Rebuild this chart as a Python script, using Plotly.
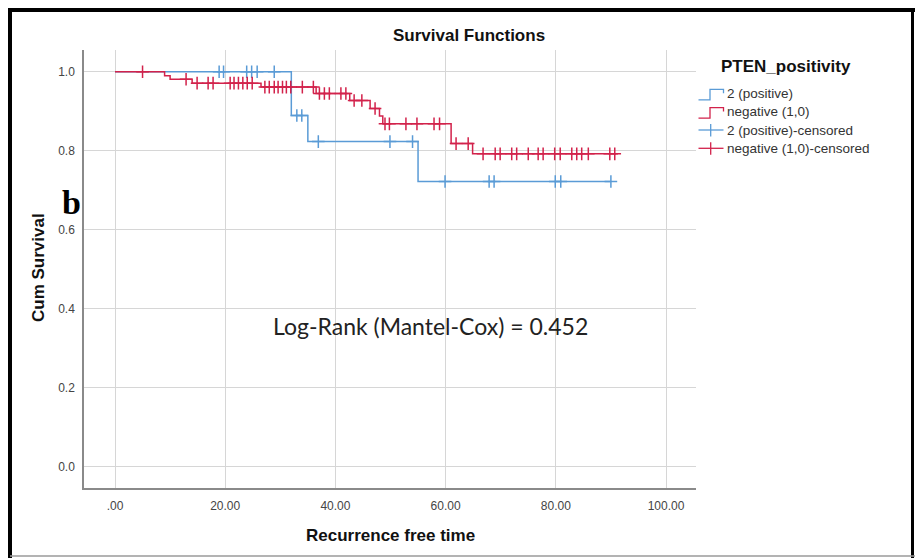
import numpy as np
import plotly.graph_objects as go

# ---------------- data ----------------
x_tick_vals = [0, 20, 40, 60, 80, 100]
x_tick_text = [".00", "20.00", "40.00", "60.00", "80.00", "100.00"]
y_tick_vals = [0.0, 0.2, 0.4, 0.6, 0.8, 1.0]
y_tick_text = ["0.0", "0.2", "0.4", "0.6", "0.8", "1.0"]

pos_event_times = [32.0, 35.0, 55.0]
pos_event_surv = [0.889, 0.823, 0.722]
pos_end_time = 90.0
pos_cens_times = [18.9, 19.7, 23.9, 24.8, 25.8, 28.9, 33.0, 33.9, 36.9,
                  49.9, 54.0, 59.9, 67.9, 68.8, 79.9, 80.9, 90.0]

neg_event_times = [9.0, 10.0, 14.0, 26.5, 36.5, 42.6, 46.3, 48.0, 48.6, 61.0, 64.9]
neg_event_surv = [0.990, 0.981, 0.971, 0.961, 0.945, 0.927, 0.907, 0.888, 0.868, 0.818, 0.792]
neg_end_time = 91.3
neg_cens_times = [5.0, 12.9, 14.9, 16.9, 17.8, 20.9, 21.6, 22.4, 23.2, 24.0, 24.9,
                  27.2, 28.0, 28.9, 29.6, 30.4, 31.1, 31.9, 34.0, 36.0, 37.1, 38.0,
                  38.9, 41.0, 41.9, 43.4, 44.8, 47.2, 49.0, 49.8, 52.8, 54.8, 57.9,
                  58.9, 61.9, 64.1, 66.8, 69.0, 69.9, 72.0, 72.9, 75.0, 76.8, 77.7,
                  79.8, 80.8, 82.9, 83.8, 84.7, 85.9, 89.8, 90.7]

series_names = ["2 (positive)", "negative (1,0)",
                "2 (positive)-censored", "negative (1,0)-censored"]
legend_title = "PTEN_positivity"
chart_title = "Survival Functions"
x_title = "Recurrence free time"
y_title = "Cum Survival"
logrank_text = "Log-Rank (Mantel-Cox) = 0.452"
panel_letter = "b"

BLUE = "#5a9bd6"
RED = "#d2224b"

# ---------------- helpers ----------------
W, H = 915, 558
L, R, T, B = 84, 219, 50, 70
PW, PH = W - L - R, H - T - B


def px(xp):
    return (xp - L) / PW


def py(yp):
    return (H - B - yp) / PH


def step_curve(times, surv, end):
    xs = [0.0] + list(times) + [end]
    ys = [1.0] + list(surv) + [surv[-1]]
    return xs, ys


def surv_at(times, surv, t):
    t_arr = np.asarray(times)
    s_arr = np.asarray([1.0] + list(surv))
    idx = np.searchsorted(t_arr, np.asarray(t), side="right")
    return s_arr[idx]


fig = go.Figure()

pxs, pys = step_curve(pos_event_times, pos_event_surv, pos_end_time)
nxs, nys = step_curve(neg_event_times, neg_event_surv, neg_end_time)

fig.add_trace(go.Scatter(x=pxs, y=pys, mode="lines", line=dict(color=BLUE, width=1.5, shape="hv"),
                         name=series_names[0], showlegend=False, hoverinfo="skip"))
fig.add_trace(go.Scatter(x=pos_cens_times, y=surv_at(pos_event_times, pos_event_surv, pos_cens_times),
                         mode="markers", name=series_names[2], showlegend=False,
                         marker=dict(symbol="cross-thin", size=9, line=dict(color=BLUE, width=1.5))))
fig.add_trace(go.Scatter(x=nxs, y=nys, mode="lines", line=dict(color=RED, width=1.5, shape="hv"),
                         name=series_names[1], showlegend=False, hoverinfo="skip"))
fig.add_trace(go.Scatter(x=neg_cens_times, y=surv_at(neg_event_times, neg_event_surv, neg_cens_times),
                         mode="markers", name=series_names[3], showlegend=False,
                         marker=dict(symbol="cross-thin", size=9, line=dict(color=RED, width=1.5))))

shapes = []
annotations = []

# legend (manual, mimicking SPSS icons)
leg_y = [93.3, 111.6, 130.0, 148.3]
leg_col = [BLUE, RED, BLUE, RED]
for i in range(4):
    yc = leg_y[i]
    c = leg_col[i]
    if i < 2:
        path = (f"M {px(698.5)} {py(yc + 6.5)} L {px(710)} {py(yc + 6.5)} "
                f"L {px(710)} {py(yc - 4)} L {px(723.5)} {py(yc - 4)} L {px(723.5)} {py(yc)}")
        shapes.append(dict(type="path", xref="paper", yref="paper", path=path,
                           line=dict(color=c, width=1.3)))
    else:
        shapes.append(dict(type="line", xref="paper", yref="paper", x0=px(698.5), x1=px(723.5),
                           y0=py(yc), y1=py(yc), line=dict(color=c, width=1.3)))
        shapes.append(dict(type="line", xref="paper", yref="paper", x0=px(710.7), x1=px(710.7),
                           y0=py(yc - 6), y1=py(yc + 6.5), line=dict(color=c, width=1.3)))
    annotations.append(dict(text=series_names[i], xref="paper", yref="paper", x=px(724.5), y=py(yc),
                            xanchor="left", yanchor="middle", showarrow=False,
                            font=dict(family="Liberation Sans", size=13.5, color="#333333")))

annotations.append(dict(text="<b>" + legend_title + "</b>", xref="paper", yref="paper",
                        x=px(719), y=py(67), xanchor="left", yanchor="middle", showarrow=False,
                        font=dict(family="Liberation Sans", size=17, color="#111111")))
annotations.append(dict(text="<b>" + chart_title + "</b>", xref="paper", yref="paper",
                        x=px(468.5), y=py(35.5), xanchor="center", yanchor="middle", showarrow=False,
                        font=dict(family="Liberation Sans", size=17, color="#111111")))
annotations.append(dict(text="<b>" + x_title + "</b>", xref="paper", yref="paper",
                        x=px(390.5), y=py(535), xanchor="center", yanchor="middle", showarrow=False,
                        font=dict(family="Liberation Sans", size=17, color="#111111")))
annotations.append(dict(text="<b>" + y_title + "</b>", xref="paper", yref="paper",
                        x=px(38), y=py(268), xanchor="center", yanchor="middle", showarrow=False,
                        textangle=-90,
                        font=dict(family="Liberation Sans", size=17, color="#111111")))
annotations.append(dict(text="<b>" + panel_letter + "</b>", xref="paper", yref="paper",
                        x=px(71), y=py(203), xanchor="center", yanchor="middle", showarrow=False,
                        font=dict(family="Liberation Serif", size=34, color="#000000")))
annotations.append(dict(text=logrank_text, xref="paper", yref="paper",
                        x=px(430), y=py(326), xanchor="center", yanchor="middle", showarrow=False,
                        font=dict(family="Lato", size=23, color="#222222")))

# outer picture frame
shapes.append(dict(type="line", xref="paper", yref="paper", x0=px(8), x1=px(915), y0=py(10), y1=py(10),
                   line=dict(color="black", width=4)))
shapes.append(dict(type="line", xref="paper", yref="paper", x0=px(10), x1=px(10), y0=py(8), y1=py(558),
                   line=dict(color="black", width=4)))
shapes.append(dict(type="line", xref="paper", yref="paper", x0=px(912.5), x1=px(912.5), y0=py(8), y1=py(558),
                   line=dict(color="black", width=3)))
shapes.append(dict(type="line", xref="paper", yref="paper", x0=px(10), x1=px(915), y0=py(556), y1=py(556),
                   line=dict(color="#9a9a9a", width=1.5)))

x_min = (L - 115) / 5.51
x_max = (L + PW - 115) / 5.51
y0_px, y1_px = 466.7, 71.7
ppu = (y0_px - y1_px)
y_min = (y0_px - (H - B)) / ppu
y_max = (y0_px - T) / ppu

fig.update_layout(
    width=W, height=H, autosize=False,
    margin=dict(l=L, r=R, t=T, b=B, pad=0),
    paper_bgcolor="white", plot_bgcolor="white",
    showlegend=False,
    shapes=shapes, annotations=annotations,
    xaxis=dict(range=[x_min, x_max], tickvals=x_tick_vals, ticktext=x_tick_text,
               showline=True, linecolor="#8a8a8a", linewidth=1.5, mirror=False,
               showgrid=True, gridcolor="#d6d6d6", gridwidth=1, zeroline=False,
               ticks="", ticklabelstandoff=6,
               tickfont=dict(family="Liberation Sans", size=12, color="#444444")),
    yaxis=dict(range=[y_min, y_max], tickvals=y_tick_vals, ticktext=y_tick_text,
               showline=True, linecolor="#8a8a8a", linewidth=1.5, mirror=False,
               showgrid=True, gridcolor="#d6d6d6", gridwidth=1, zeroline=False,
               ticks="", ticklabelstandoff=5,
               tickfont=dict(family="Liberation Sans", size=12, color="#444444")),
)

fig.write_html("out.html",
               config={"displayModeBar": False},
               post_script="document.body.style.margin='0px';document.body.style.overflow='hidden';")
